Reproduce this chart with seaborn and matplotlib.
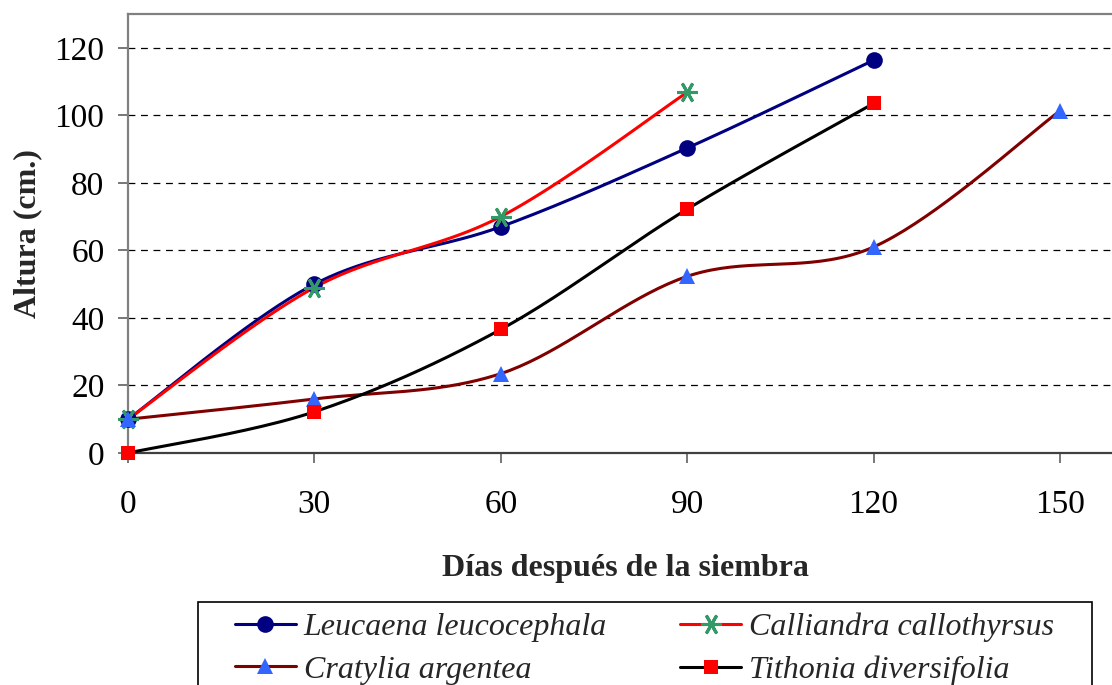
import numpy as np
import pandas as pd
import matplotlib
matplotlib.use("Agg")
import matplotlib.pyplot as plt
from matplotlib.lines import Line2D
from matplotlib.patches import Rectangle
import seaborn as sns

# Growth data: days after sowing vs. plant height (cm)
species = ["Leucaena leucocephala", "Calliandra callothyrsus",
           "Cratylia argentea", "Tithonia diversifolia"]
days_leucaena = [0, 30, 60, 90, 120]
height_leucaena = [10, 50, 67, 90.3, 116.3]
days_calliandra = [0, 30, 60, 90]
height_calliandra = [10, 49, 70, 106.8]
days_cratylia = [0, 30, 60, 90, 120, 150]
height_cratylia = [10, 16, 23.5, 52.3, 61, 101.3]
days_tithonia = [0, 30, 60, 90, 120]
height_tithonia = [0, 12.2, 36.6, 72.2, 103.5]

x_ticks = [0, 30, 60, 90, 120, 150]
y_ticks = [0, 20, 40, 60, 80, 100, 120]

line_colors = ["#000080", "#FF0000", "#800000", "#000000"]
marker_colors = ["#000080", "#339966", "#3366FF", "#FF0000"]
markers = ["o", "x", "^", "s"]
marker_sizes = [12, 15, 12, 10.5]


def smooth(xs, ys, n=40):
    """Catmull-Rom style smoothing through the given points (cubic Bezier segments)."""
    xs = np.asarray(xs, float)
    ys = np.asarray(ys, float)
    px = np.concatenate([[xs[0]], xs, [xs[-1]]])
    py = np.concatenate([[ys[0]], ys, [ys[-1]]])
    out_x, out_y = [], []
    t = np.linspace(0, 1, n)
    for i in range(1, len(px) - 2):
        p0 = np.array([px[i], py[i]])
        p3 = np.array([px[i + 1], py[i + 1]])
        c1 = p0 + (np.array([px[i + 1], py[i + 1]]) - np.array([px[i - 1], py[i - 1]])) / 6
        c2 = p3 - (np.array([px[i + 2], py[i + 2]]) - np.array([px[i], py[i]])) / 6
        b = ((1 - t) ** 3)[:, None] * p0 + (3 * (1 - t) ** 2 * t)[:, None] * c1 \
            + (3 * (1 - t) * t ** 2)[:, None] * c2 + (t ** 3)[:, None] * p3
        out_x.extend(b[:, 0])
        out_y.extend(b[:, 1])
    return out_x, out_y


series = [
    (days_leucaena, height_leucaena),
    (days_calliandra, height_calliandra),
    (days_cratylia, height_cratylia),
    (days_tithonia, height_tithonia),
]

ASTERISK = (6, 2, 90)
W, H = 1112, 685

sns.set_theme(style="white")
plt.rcParams["font.family"] = ["Liberation Serif", "DejaVu Serif"]

fig = plt.figure(figsize=(W / 100, H / 100), dpi=100)
ax = fig.add_axes([128 / W, 1 - 453 / H, (1122 - 128) / W, (453 - 14) / H])

for i, (name, (dx, hy)) in enumerate(zip(species, series)):
    sx, sy = smooth(dx, hy)
    curve = pd.DataFrame({"dias": sx, "altura": sy})
    sns.lineplot(data=curve, x="dias", y="altura", ax=ax, color=line_colors[i],
                 lw=2.2, sort=False, estimator=None, zorder=3)
    pts = pd.DataFrame({"dias": dx, "altura": hy})
    if markers[i] == "x":
        ax.plot(pts["dias"], pts["altura"], ls="none", marker=ASTERISK,
                ms=marker_sizes[i], mec=marker_colors[i], mew=2.2, zorder=4,
                clip_on=False)
    else:
        ax.plot(pts["dias"], pts["altura"], ls="none", marker=markers[i],
                ms=marker_sizes[i], mfc=marker_colors[i], mec=marker_colors[i],
                mew=0, zorder=4, clip_on=False)

ax.set_xlim(0, 160)
ax.set_ylim(0, 130)
ax.set_xticks(x_ticks)
ax.set_yticks(y_ticks)
ax.set_xticklabels([str(v) for v in x_ticks])
ax.set_yticklabels([str(v) for v in y_ticks])

ax.yaxis.grid(True, color="black", linestyle=(0, (5.5, 4.5)), lw=0.9)
ax.xaxis.grid(False)
ax.set_axisbelow(True)

for side in ["left", "top", "right"]:
    ax.spines[side].set_color("#808080")
    ax.spines[side].set_linewidth(1.6)
ax.spines["bottom"].set_color("#404040")
ax.spines["bottom"].set_linewidth(1.6)

ax.tick_params(axis="both", which="major", direction="out", length=7,
               width=1.2, color="#606060", labelsize=24, labelcolor="black",
               left=True, bottom=True)
ax.tick_params(axis="x", pad=19.5)
ax.tick_params(axis="y", pad=10)

ax.set_xlabel("Días después de la siembra", fontsize=23, fontweight="bold",
              labelpad=24)
ax.set_ylabel("Altura (cm.)", fontsize=23, fontweight="bold", labelpad=8.5)

handles = []
for i in range(4):
    if markers[i] == "x":
        h = Line2D([], [], color=line_colors[i], lw=2.2, marker=ASTERISK,
                   ms=marker_sizes[i], mec=marker_colors[i], mew=2.2)
    else:
        h = Line2D([], [], color=line_colors[i], lw=2.2, marker=markers[i],
                   ms=marker_sizes[i], mfc=marker_colors[i], mec=marker_colors[i], mew=0)
    handles.append(h)

# legend box (extends below the bottom edge of the figure)
fig.patches.append(Rectangle((198 / W, -0.1), (1092 - 198) / W, 0.1 + (685 - 602) / H,
                             transform=fig.transFigure, fill=True, facecolor="white",
                             edgecolor="black", lw=1.2, zorder=5))

# legend fills column-wise; order so rows read Leucaena/Calliandra, Cratylia/Tithonia
order = [0, 2, 1, 3]
leg = fig.legend([handles[k] for k in order], [species[k] for k in order],
                 loc="upper left",
                 bbox_to_anchor=(235 / W, 1 - 613 / H), ncol=2,
                 prop={"family": ["Liberation Serif"], "style": "italic", "size": 23},
                 frameon=False, handlelength=1.9, handletextpad=0.25,
                 columnspacing=2.3, labelspacing=0.4, borderpad=0,
                 numpoints=1, borderaxespad=0)
leg.set_zorder(6)

fig.savefig("out.png", dpi=100)
